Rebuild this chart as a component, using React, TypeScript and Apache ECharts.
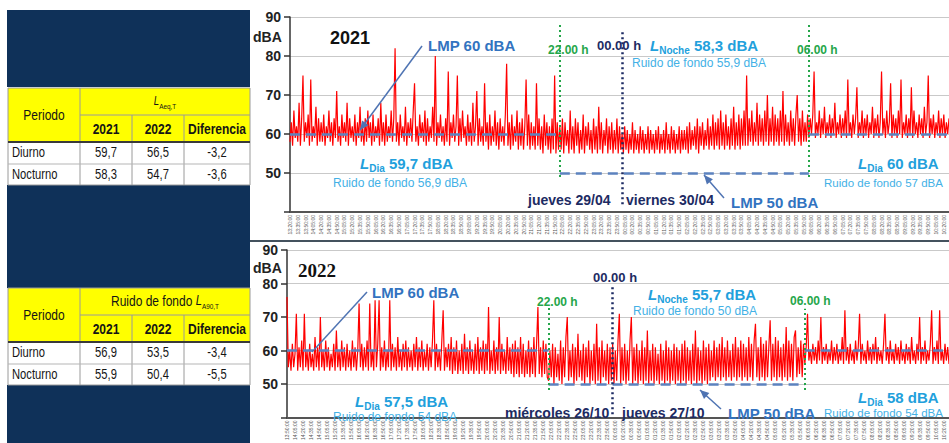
import React, { useEffect, useRef } from "react";
import * as echarts from "echarts";

// ---------- DATA (one value every 2.5 min) ----------
const STEP_SEC = 150;
const START_2021 = "13:20";
const START_2022 = "13:50";

// 2021: 13:20 -> 22:00 (día)
const day2021a = [
  58, 63, 57, 66, 59, 62, 58, 68, 57, 64, 75, 58, 63, 59, 65, 57, 74, 58, 62, 59, 67, 57, 64, 58,
  63, 58, 65, 57, 62, 59, 66, 58, 63, 57, 64, 59, 71, 58, 62, 57, 65, 59, 63, 58, 68, 57, 64, 59,
  62, 58, 65, 57, 63, 59, 67, 58, 62, 57, 64, 58, 66, 59, 63, 57, 65, 58, 62, 59, 64, 57, 68, 58,
  63, 57, 65, 58, 62, 59, 66, 58, 64, 82, 58, 63, 57, 65, 59, 62, 58, 67, 57, 63, 59, 64, 58, 66,
  73, 58, 62, 57, 65, 59, 63, 58, 66, 57, 64, 58, 62, 59, 67, 58, 80, 57, 63, 59, 65, 58, 62, 57,
  64, 58, 76, 57, 63, 59, 65, 58, 62, 75, 57, 64, 58, 66, 59, 62, 57, 65, 58, 63, 57, 68, 58, 62,
  71, 57, 64, 58, 62, 57, 73, 58, 63, 56, 65, 57, 62, 58, 66, 57, 63, 56, 64, 58, 62, 57, 65, 78,
  57, 63, 56, 65, 57, 62, 58, 66, 56, 63, 57, 64, 56, 62, 74, 57, 65, 56, 63, 57, 62, 56, 73, 57,
  64, 56, 62, 55, 65, 57, 63, 56, 62, 55, 64, 56, 75, 55, 63, 56,
];
// 2021: 22:00 -> 06:00 (noche)
const night2021 = [
  62, 56, 64, 55, 63, 57, 61, 55, 66, 56, 62, 55, 64, 57, 63, 55, 61, 56, 65, 55, 62, 57, 63, 56,
  61, 55, 64, 56, 62, 55, 67, 56, 63, 55, 61, 57, 64, 55, 62, 56, 63, 55, 61, 56, 64, 55, 62, 56,
  60, 55, 62, 56, 61, 55, 60, 56, 63, 55, 61, 56, 60, 55, 62, 56, 61, 55, 60, 56, 62, 55, 61, 56,
  60, 55, 61, 56, 62, 55, 60, 56, 61, 55, 63, 56, 60, 55, 62, 56, 61, 55, 60, 56, 62, 55, 61, 56,
  61, 56, 62, 55, 63, 56, 61, 57, 62, 56, 64, 55, 62, 57, 63, 56, 61, 57, 64, 56, 62, 57, 65, 56,
  63, 57, 64, 56, 66, 57, 63, 56, 65, 57, 62, 56, 64, 57, 67, 56, 63, 57, 65, 56, 64, 57, 66, 57,
  75, 57, 64, 58, 66, 57, 63, 58, 68, 57, 65, 58, 64, 57, 66, 58, 70, 57, 64, 58, 67, 57, 65, 58,
  64, 57, 66, 58, 71, 57, 65, 58, 63, 57, 66, 58, 64, 57, 65, 70, 58, 64, 57, 66, 58, 63, 58, 65,
];
// 2021: 06:00 -> 10:30 (día)
const day2021b = [
  59, 64, 60, 65, 76, 59, 63, 60, 66, 59, 64, 60, 67, 59, 63, 60, 65, 59, 64, 60, 68, 59, 63, 60,
  65, 59, 64, 60, 66, 59, 74, 60, 63, 59, 65, 60, 64, 72, 59, 63, 60, 66, 59, 64, 60, 65, 59, 63,
  60, 67, 59, 64, 60, 65, 59, 63, 76, 60, 64, 59, 66, 60, 63, 73, 59, 65, 60, 64, 59, 66, 60, 74,
  59, 63, 60, 65, 59, 64, 60, 72, 59, 66, 60, 63, 59, 65, 60, 64, 59, 67, 60, 63, 75, 59, 64, 60,
  65, 59, 63, 60, 66, 59, 64, 60, 65, 59, 63, 60, 64,
];

// 2022: 13:50 -> 22:00 (día)
const day2022a = [
  76, 55, 60, 54, 62, 55, 59, 71, 54, 61, 55, 63, 54, 71, 55, 60, 54, 62, 55, 59, 54, 64, 55, 61,
  54, 70, 55, 60, 54, 63, 55, 61, 54, 59, 55, 62, 54, 66, 55, 60, 54, 63, 55, 61, 54, 62, 55, 60,
  54, 63, 55, 61, 54, 60, 74, 55, 62, 54, 61, 55, 63, 54, 74, 55, 60, 54, 75, 55, 62, 75, 54, 61,
  55, 63, 54, 60, 55, 75, 54, 62, 55, 61, 54, 64, 55, 60, 54, 62, 55, 63, 54, 61, 55, 60, 54, 62,
  55, 64, 54, 61, 55, 63, 54, 60, 55, 62, 54, 61, 55, 63, 75, 54, 62, 55, 60, 54, 63, 72, 54, 61,
  55, 62, 54, 64, 53, 61, 54, 63, 53, 60, 54, 62, 53, 65, 54, 61, 53, 63, 54, 60, 53, 62, 54, 64,
  53, 61, 54, 63, 53, 62, 54, 73, 53, 60, 54, 63, 53, 61, 54, 70, 53, 62, 54, 60, 53, 64, 54, 61,
  53, 62, 52, 63, 53, 61, 52, 64, 53, 62, 52, 60, 53, 63, 52, 61, 53, 64, 52, 62, 73, 53, 61, 52,
  63, 53, 62, 52,
];
// 2022: 22:00 -> 06:00 (noche)
const night2022 = [
  51, 60, 52, 62, 50, 61, 52, 59, 51, 63, 50, 61, 52, 64, 70, 51, 60, 52, 62, 50, 61, 51, 65, 52,
  60, 51, 62, 50, 61, 52, 63, 50, 60, 51, 62, 50, 68, 51, 61, 50, 63, 52, 60, 51, 62, 50, 61, 51,
  62, 50, 60, 51, 63, 71, 50, 61, 51, 62, 50, 60, 51, 63, 70, 50, 61, 51, 62, 50, 60, 51, 63, 50,
  61, 51, 66, 50, 60, 51, 62, 50, 61, 51, 59, 50, 62, 51, 60, 50, 63, 51, 61, 50, 60, 51, 62, 50,
  61, 51, 60, 50, 62, 51, 63, 50, 61, 51, 60, 50, 62, 51, 66, 50, 61, 51, 60, 50, 63, 51, 61, 50,
  62, 51, 60, 52, 63, 51, 61, 52, 62, 51, 64, 52, 61, 51, 63, 52, 60, 51, 62, 52, 64, 51, 61, 52,
  63, 51, 62, 52, 61, 51, 64, 52, 62, 51, 63, 68, 52, 61, 51, 64, 52, 62, 51, 63, 52, 61, 69, 51,
  62, 52, 64, 51, 63, 52, 61, 51, 62, 52, 67, 51, 63, 52, 62, 51, 64, 66, 52, 61, 53, 63, 52, 62,
];
// 2022: 06:00 -> 10:30 (día)
const day2022b = [
  56, 61, 71, 57, 60, 56, 62, 57, 61, 56, 63, 57, 70, 56, 61, 57, 62, 56, 60, 57, 63, 56, 61, 57,
  62, 56, 60, 57, 64, 56, 72, 57, 61, 56, 62, 57, 60, 56, 63, 57, 61, 71, 56, 62, 57, 60, 56, 63,
  57, 61, 56, 62, 57, 64, 56, 61, 57, 60, 56, 62, 71, 57, 61, 56, 63, 57, 60, 56, 62, 57, 61, 56,
  63, 57, 60, 56, 62, 57, 61, 56, 64, 57, 60, 56, 62, 57, 70, 56, 61, 57, 63, 56, 60, 57, 62, 72,
  56, 61, 57, 63, 56, 72, 57, 60, 56, 62, 57, 61, 56,
];

const yTicks = [50, 60, 70, 80, 90];
const lmpDay = 60;
const lmpNight = 50;

// Tables
const periods = ["Diurno", "Nocturno"];
const yearCols = ["2021", "2022", "Diferencia"];
const laeq2021 = ["59,7", "58,3"];
const laeq2022 = ["56,5", "54,7"];
const laeqDiff = ["-3,2", "-3,6"];
const la90_2021 = ["56,9", "55,9"];
const la90_2022 = ["53,5", "50,4"];
const la90Diff = ["-3,4", "-5,5"];

// ---------- HELPERS ----------
const SANS = "'Liberation Sans', Arial, Helvetica, sans-serif";
const SERIF = "'Liberation Serif', 'Times New Roman', serif";
const NAVY = "#0f3159";
const C_LMP = "#3273c0";
const C_LVL = "#22a0dc";
const C_RF = "#43b1e6";
const C_DARK = "#1d2b63";
const C_GREEN = "#25a64a";
const C_DASH = "#5c82bf";

function pad(n: number) {
  return n < 10 ? "0" + n : "" + n;
}
function buildTimes(start: string, n: number): string[] {
  const [h, m] = start.split(":").map(Number);
  const t0 = (h * 60 + m) * 60;
  const out: string[] = [];
  for (let i = 0; i < n; i++) {
    const s = (t0 + i * STEP_SEC) % 86400;
    out.push(pad(Math.floor(s / 3600)) + ":" + pad(Math.floor((s % 3600) / 60)) + ":" + pad(s % 60));
  }
  return out;
}

const values2021 = [...day2021a, ...night2021, ...day2021b];
const values2022 = [...day2022a, ...night2022, ...day2022b];
const times2021 = buildTimes(START_2021, values2021.length);
const times2022 = buildTimes(START_2022, values2022.length);

function txt(x: number, y: number, text: string, size: number, color: string, weight = "bold", family = SANS) {
  return {
    type: "text",
    x,
    y,
    z: 100,
    style: { text, fontSize: size, fill: color, fontWeight: weight, fontFamily: family, align: "left", verticalAlign: "middle" },
  };
}
function level(x: number, y: number, sub: string, value: string) {
  return {
    type: "text",
    x,
    y,
    z: 100,
    style: {
      text: `{L|L}{s|${sub}}{v| ${value}}`,
      align: "left",
      verticalAlign: "middle",
      rich: {
        L: { fontSize: 15, fontStyle: "italic", fontWeight: "bold", fill: C_LVL, fontFamily: SANS, lineHeight: 20 },
        s: { fontSize: 10, fontWeight: "bold", fill: C_LVL, fontFamily: SANS, lineHeight: 10, verticalAlign: "bottom" },
        v: { fontSize: 15, fontWeight: "bold", fill: C_LVL, fontFamily: SANS, lineHeight: 20 },
      },
    },
  };
}
function arrow(x1: number, y1: number, x2: number, y2: number, head: boolean) {
  const els: any[] = [
    { type: "line", z: 100, shape: { x1, y1, x2, y2 }, style: { stroke: "#4f74b3", lineWidth: 1.5 } },
  ];
  if (head) {
    const a = Math.atan2(y2 - y1, x2 - x1);
    const L = 9, W = 4;
    const bx = x2 - L * Math.cos(a), by = y2 - L * Math.sin(a);
    els.push({
      type: "polygon",
      z: 100,
      shape: {
        points: [
          [x2, y2],
          [bx + W * Math.sin(a), by - W * Math.cos(a)],
          [bx - W * Math.sin(a), by + W * Math.cos(a)],
        ],
      },
      style: { fill: "#4f74b3" },
    });
  }
  return els;
}

const NARROW_SCALE = 0.8;
function tableEls(top: number, header: any, c1: string[], c2: string[], c3: string[]) {
  const xs = [8, 80, 132, 184, 250];
  const ys = [top, top + 27, top + 54, top + 76, top + 97];
  const gray = "#9a9a9a";
  const els: any[] = [
    { type: "rect", shape: { x: 8, y: ys[0], width: 242, height: 54 }, style: { fill: "#ffff00" } },
    { type: "rect", shape: { x: 8, y: ys[2], width: 242, height: 43 }, style: { fill: "#ffffff" } },
    { type: "rect", shape: { x: 8, y: ys[0], width: 242, height: 97 }, style: { fill: "none", stroke: gray, lineWidth: 1 } },
    { type: "line", shape: { x1: xs[1], y1: ys[0], x2: xs[1], y2: ys[4] }, style: { stroke: gray, lineWidth: 1 } },
    { type: "line", shape: { x1: xs[2], y1: ys[1], x2: xs[2], y2: ys[4] }, style: { stroke: gray, lineWidth: 1 } },
    { type: "line", shape: { x1: xs[3], y1: ys[1], x2: xs[3], y2: ys[4] }, style: { stroke: gray, lineWidth: 1 } },
    { type: "line", shape: { x1: xs[1], y1: ys[1], x2: xs[4], y2: ys[1] }, style: { stroke: gray, lineWidth: 1 } },
    { type: "line", shape: { x1: xs[0], y1: ys[2], x2: xs[4], y2: ys[2] }, style: { stroke: "#3a3a3a", lineWidth: 2 } },
    { type: "line", shape: { x1: xs[0], y1: ys[3], x2: xs[4], y2: ys[3] }, style: { stroke: "#b5b5b5", lineWidth: 1 } },
  ];
  const t = (x: number, y: number, text: string, align: string, weight = "normal", size = 14) => ({
    type: "text",
    x,
    y,
    scaleX: NARROW_SCALE,
    style: { text, fontSize: size, fontWeight: weight, fill: "#151515", fontFamily: SANS, align, verticalAlign: "middle" },
  });
  els.push(t(44, top + 27, "Periodo", "center", "normal", 15));
  header.x = 165;
  header.y = top + 13;
  header.scaleX = NARROW_SCALE;
  els.push(header);
  yearCols.forEach((c, i) => els.push(t((xs[i + 1] + xs[i + 2]) / 2, top + 41, c, "center", "bold", 15)));
  periods.forEach((p, r) => {
    const yy = (ys[2 + r] + ys[3 + r]) / 2;
    els.push(t(12, yy, p, "left", "normal", 14));
    els.push(t((xs[1] + xs[2]) / 2, yy, c1[r], "center", "normal", 14));
    els.push(t((xs[2] + xs[3]) / 2, yy, c2[r], "center", "normal", 14));
    els.push(t((xs[3] + xs[4]) / 2, yy, c3[r], "center", "normal", 14));
  });
  return els;
}
function headerRich(prefix: string, sub: string) {
  return {
    type: "text",
    style: {
      text: (prefix ? `{t|${prefix} }` : "") + `{L|L}{s|${sub}}`,
      align: "center",
      verticalAlign: "middle",
      rich: {
        t: { fontSize: 15, fill: "#151515", fontFamily: SANS, lineHeight: 18 },
        L: { fontSize: prefix ? 14 : 12, fill: "#151515", fontFamily: SANS, fontStyle: "italic", lineHeight: 18 },
        s: { fontSize: 8, fill: "#151515", fontFamily: SANS, lineHeight: 9, verticalAlign: "bottom" },
      },
    },
  };
}

function dashSeg(x1: string, x2: string, v: number) {
  return [
    { coord: [x1, v], lineStyle: { color: C_DASH, width: 2.5, type: [10, 6] } },
    { coord: [x2, v] },
  ];
}
function vSeg(x: string, v1: number, v2: number, color: string, width: number) {
  return [
    { coord: [x, v1], lineStyle: { color, width, type: [2, 3] } },
    { coord: [x, v2] },
  ];
}

function makeAxes(gridIndex: number, times: string[]) {
  const xAxis = {
    type: "category",
    gridIndex,
    data: times,
    boundaryGap: false,
    axisLine: { lineStyle: { color: "#555", width: 2 } },
    axisTick: { show: false },
    axisLabel: { rotate: 90, fontSize: 5, interval: 5, color: "#555", margin: 3, fontFamily: SANS },
    splitLine: { show: false },
  };
  const yAxis = {
    type: "value",
    gridIndex,
    min: 40,
    max: 90,
    interval: 10,
    axisLine: { show: true, lineStyle: { color: "#333", width: 1.5 } },
    axisTick: { show: true, length: 6, lineStyle: { color: "#333", width: 1.5 } },
    axisLabel: {
      fontSize: 14,
      fontWeight: "bold",
      color: "#222",
      fontFamily: SANS,
      margin: 9,
      formatter: (v: number) => (yTicks.indexOf(v) >= 0 ? String(v) : ""),
    },
    splitLine: { show: true, lineStyle: { color: "#c9c9c9", width: 1 } },
  };
  return { xAxis, yAxis };
}

export default function App() {
  const ref = useRef<HTMLDivElement>(null);
  useEffect(() => {
    if (!ref.current) return;
    const chart = echarts.init(ref.current, undefined, { renderer: "svg" });
    const a1 = makeAxes(0, times2021);
    const a2 = makeAxes(1, times2022);
    const last21 = times2021[times2021.length - 1];
    const last22 = times2022[times2022.length - 1];

    const graphic: any[] = [
      // navy panels
      { type: "rect", shape: { x: 7, y: 10, width: 243, height: 77 }, style: { fill: NAVY } },
      { type: "rect", shape: { x: 7, y: 185, width: 243, height: 103 }, style: { fill: NAVY } },
      { type: "rect", shape: { x: 7, y: 385, width: 243, height: 58 }, style: { fill: NAVY } },
      ...tableEls(88, headerRich("", "Aeq,T"), laeq2021, laeq2022, laeqDiff),
      ...tableEls(288, headerRich("Ruido de fondo", "A90,T"), la90_2021, la90_2022, la90Diff),
      // separator between the two charts
      { type: "line", shape: { x1: 250, y1: 241, x2: 949, y2: 241 }, style: { stroke: "#44525e", lineWidth: 2 } },
      // ----- 2021 -----
      txt(253, 37, "dBA", 14, "#222"),
      txt(330, 38, "2021", 18, "#111"),
      txt(428, 45, "LMP 60 dBA", 15, C_LMP),
      ...arrow(422, 46, 360, 130, true),
      txt(548, 50, "22.00 h", 12, C_GREEN),
      txt(597, 45, "00.00 h", 13, C_DARK),
      level(650, 45, "Noche", "58,3 dBA"),
      txt(632, 63, "Ruido de fondo 55,9 dBA", 12, C_RF, "normal"),
      txt(797, 50, "06.00 h", 12, C_GREEN),
      level(360, 163, "Dia", "59,7 dBA"),
      txt(333, 183, "Ruido de fondo 56,9 dBA", 12, C_RF, "normal"),
      txt(528, 200, "jueves 29/04", 14, C_DARK),
      txt(626, 200, "viernes 30/04", 14, C_DARK),
      txt(731, 202, "LMP 50 dBA", 15, C_LMP),
      ...arrow(724, 198, 704, 175, true),
      level(858, 163, "Dia", "60 dBA"),
      txt(824, 183, "Ruido de fondo 57 dBA", 11.5, C_RF, "normal"),
      // ----- 2022 -----
      txt(253, 268, "dBA", 14, "#222"),
      txt(298, 270, "2022", 19, "#111", "bold", SERIF),
      txt(372, 292, "LMP 60 dBA", 15, C_LMP),
      ...arrow(367, 292, 312, 352, false),
      txt(537, 302, "22.00 h", 12, C_GREEN),
      txt(593, 277, "00.00 h", 13, C_DARK),
      level(648, 294, "Noche", "55,7 dBA"),
      txt(633, 311, "Ruido de fondo 50 dBA", 12, C_RF, "normal"),
      txt(790, 301, "06.00 h", 12, C_GREEN),
      level(355, 401, "Dia", "57,5 dBA"),
      txt(333, 417, "Ruido de fondo 54 dBA", 12, C_RF, "normal"),
      txt(505, 413, "miércoles 26/10", 14, C_DARK),
      txt(622, 413, "jueves 27/10", 14, C_DARK),
      txt(728, 413, "LMP 50 dBA", 15, C_LMP),
      ...arrow(721, 409, 700, 390, true),
      level(858, 397, "Dia", "58 dBA"),
      txt(824, 413, "Ruido de fondo 54 dBA", 11.5, C_RF, "normal"),
    ];

    const redLine = { color: "#ff0000", width: 1.2 };
    chart.setOption({
      animation: false,
      backgroundColor: "#ffffff",
      grid: [
        { left: 290, top: 17, height: 195, right: -10 },
        { left: 287, top: 250, height: 174, right: -6 },
      ],
      xAxis: [a1.xAxis, a2.xAxis],
      yAxis: [a1.yAxis, a2.yAxis],
      series: [
        {
          type: "line",
          xAxisIndex: 0,
          yAxisIndex: 0,
          data: values2021,
          symbol: "none",
          lineStyle: redLine,
          markLine: {
            silent: true,
            symbol: ["none", "none"],
            label: { show: false },
            data: [
              dashSeg(times2021[0], "22:00:00", lmpDay),
              dashSeg("22:00:00", "06:00:00", lmpNight),
              dashSeg("06:00:00", last21, lmpDay),
              vSeg("22:00:00", 49, 88.5, C_GREEN, 2),
              vSeg("00:00:00", 42, 86.5, C_DARK, 2.5),
              vSeg("06:00:00", 49, 88.3, C_GREEN, 2),
            ],
          },
        },
        {
          type: "line",
          xAxisIndex: 1,
          yAxisIndex: 1,
          data: values2022,
          symbol: "none",
          lineStyle: redLine,
          markLine: {
            silent: true,
            symbol: ["none", "none"],
            label: { show: false },
            data: [
              dashSeg(times2022[0], "22:00:00", lmpDay),
              dashSeg("22:00:00", "06:00:00", lmpNight),
              dashSeg("06:00:00", last22, lmpDay),
              vSeg("22:00:00", 48.2, 72.7, C_GREEN, 2),
              vSeg("00:00:00", 41, 79, C_DARK, 2.5),
              vSeg("06:00:00", 48.2, 72.5, C_GREEN, 2),
            ],
          },
        },
      ],
      graphic,
    });
    return () => chart.dispose();
  }, []);
  return <div ref={ref} style={{ position: "absolute", left: 0, top: 0, width: 949, height: 443 }} />;
}
